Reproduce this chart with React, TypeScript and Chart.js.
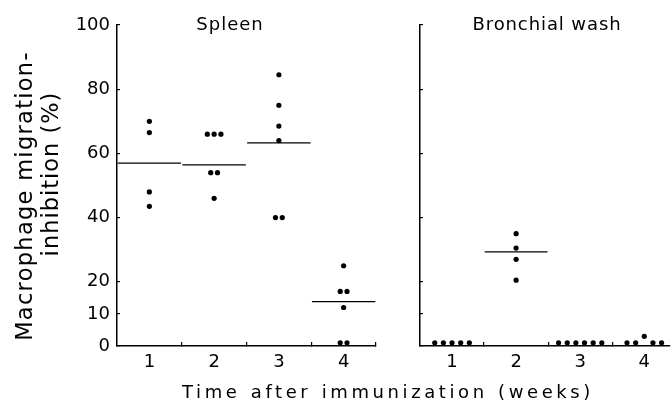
import React, { useEffect, useRef } from "react";
import { Chart, registerables } from "chart.js";

Chart.register(...registerables);

// ---- data ----
const weeks = [1, 2, 3, 4];
const xTickLabels = ["1", "2", "3", "4"];
const yTickValues = [0, 10, 20, 40, 60, 80, 100];
const yTickLabels = ["0", "10", "20", "40", "60", "80", "100"];

const spleenWeek1 = [70, 66.5, 48, 43.5];
const spleenWeek2 = [66, 66, 66, 54, 54, 46];
const spleenWeek3 = [84.5, 75, 68.5, 64, 40, 40];
const spleenWeek4 = [25, 17, 17, 12, 1, 1];
const spleenMeans = [57, 56.4, 63.3, 13.8];

const bronchialWeek1 = [1, 1, 1, 1, 1];
const bronchialWeek2 = [35, 30.5, 27, 20.5];
const bronchialWeek3 = [1, 1, 1, 1, 1, 1];
const bronchialWeek4 = [1, 1, 3, 1, 1];
const bronchialMeans: (number | null)[] = [null, 29.3, null, null];

const titleSpleen = "Spleen";
const titleBronchial = "Bronchial wash";
const xTitle = "Time after immunization (weeks)";
const yTitleLine1 = "Macrophage migration-";
const yTitleLine2 = "inhibition (%)";

const FONT = "'DejaVu Sans', sans-serif";

// spread near-equal neighbouring values side by side
function spread(week: number, values: number[], step: number) {
  const pts: { x: number; y: number }[] = [];
  let i = 0;
  while (i < values.length) {
    let j = i + 1;
    while (j < values.length && Math.abs(values[j] - values[j - 1]) < 2.5) j++;
    const n = j - i;
    for (let k = 0; k < n; k++) {
      pts.push({ x: week + (k - (n - 1) / 2) * step, y: values[i + k] });
    }
    i = j;
  }
  return pts;
}

function buildConfig(
  groups: number[][],
  means: (number | null)[],
  step: number,
  xMax: number,
  yWidth: number,
  showYLabels: boolean,
  padRight: number
): any {
  const points = groups.flatMap((g, i) => spread(weeks[i], g, step));
  const meanSets = means
    .map((m, i) =>
      m === null
        ? null
        : {
            type: "scatter",
            showLine: true,
            data: [
              { x: weeks[i] - 0.49, y: m },
              { x: weeks[i] + 0.49, y: m },
            ],
            borderColor: "#000",
            borderWidth: 1.3,
            pointRadius: 0,
            pointHoverRadius: 0,
          }
    )
    .filter(Boolean);

  const xTicks = [0.5, ...weeks.flatMap((w) => [w, w + 0.5])].filter(
    (v) => v <= xMax + 1e-9
  );

  return {
    type: "scatter",
    data: {
      datasets: [
        {
          data: points,
          backgroundColor: "#000",
          borderWidth: 0,
          pointRadius: 2.6,
          pointHoverRadius: 2.6,
        },
        ...meanSets,
      ],
    },
    options: {
      animation: false,
      responsive: false,
      devicePixelRatio: 1,
      events: [],
      layout: { padding: { top: 25, right: padRight, left: 0, bottom: 0 } },
      plugins: { legend: { display: false }, tooltip: { enabled: false }, title: { display: false } },
      scales: {
        x: {
          type: "linear",
          min: 0.5,
          max: xMax,
          afterBuildTicks: (s: any) => {
            s.ticks = xTicks.map((v) => ({ value: v }));
          },
          afterFit: (s: any) => {
            s.height = 63;
          },
          grid: {
            drawOnChartArea: false,
            drawTicks: true,
            tickLength: -4,
            lineWidth: 1.2,
            color: (ctx: any) =>
              ctx.tick && ctx.tick.value % 1 !== 0 && ctx.tick.value !== 0.5
                ? "#000"
                : "rgba(0,0,0,0)",
          },
          border: { display: true, color: "#000", width: 1.5 },
          ticks: {
            autoSkip: false,
            maxRotation: 0,
            padding: 10,
            color: "#000",
            font: { family: FONT, size: 18 },
            callback: (v: any) => {
              const i = weeks.indexOf(Number(v));
              return i >= 0 ? xTickLabels[i] : "";
            },
          },
        },
        y: {
          type: "linear",
          min: 0,
          max: 100,
          afterBuildTicks: (s: any) => {
            s.ticks = yTickValues.map((v) => ({ value: v }));
          },
          afterFit: (s: any) => {
            s.width = yWidth;
          },
          grid: {
            drawOnChartArea: false,
            drawTicks: true,
            tickLength: -3,
            lineWidth: 1.2,
            color: "#000",
          },
          border: { display: true, color: "#000", width: 1.5 },
          ticks: {
            display: showYLabels,
            padding: 10,
            color: "#000",
            font: { family: FONT, size: 18 },
            callback: (v: any) => {
              const i = yTickValues.indexOf(Number(v));
              return i >= 0 ? yTickLabels[i] : "";
            },
          },
        },
      },
    },
  };
}

const textBase: React.CSSProperties = {
  position: "absolute",
  fontFamily: FONT,
  color: "#000",
  whiteSpace: "nowrap",
};

export default function App() {
  const leftRef = useRef<HTMLCanvasElement>(null);
  const rightRef = useRef<HTMLCanvasElement>(null);

  useEffect(() => {
    const left = new Chart(
      leftRef.current!,
      buildConfig(
        [spleenWeek1, spleenWeek2, spleenWeek3, spleenWeek4],
        spleenMeans,
        0.105,
        4.5,
        117,
        true,
        24
      )
    );
    const right = new Chart(
      rightRef.current!,
      buildConfig(
        [bronchialWeek1, bronchialWeek2, bronchialWeek3, bronchialWeek4],
        bronchialMeans,
        0.135,
        0.5 + 252 / 64.75,
        20,
        false,
        0
      )
    );
    return () => {
      left.destroy();
      right.destroy();
    };
  }, []);

  return (
    <div
      style={{
        position: "absolute",
        left: 0,
        top: 0,
        width: 672,
        height: 409,
        background: "#fff",
        overflow: "hidden",
      }}
    >
      <canvas
        ref={leftRef}
        width={400}
        height={409}
        style={{ position: "absolute", left: 0, top: 0, width: 400, height: 409 }}
      />
      <canvas
        ref={rightRef}
        width={272}
        height={409}
        style={{ position: "absolute", left: 400, top: 0, width: 272, height: 409 }}
      />
      <div
        style={{
          ...textBase,
          left: 180,
          width: 100,
          top: 15,
          fontSize: 18,
          lineHeight: "18px",
          letterSpacing: "1px",
          textAlign: "center",
        }}
      >
        {titleSpleen}
      </div>
      <div
        style={{
          ...textBase,
          left: 467,
          width: 160,
          top: 15,
          fontSize: 18,
          lineHeight: "18px",
          letterSpacing: "0.9px",
          textAlign: "center",
        }}
      >
        {titleBronchial}
      </div>
      <div
        style={{
          ...textBase,
          left: 182,
          top: 383,
          fontSize: 18,
          lineHeight: "18px",
          letterSpacing: "3.6px",
          wordSpacing: "1px",
        }}
      >
        {xTitle}
      </div>
      <div
        style={{
          ...textBase,
          left: 23.5 - 160,
          top: 196 - 11,
          width: 320,
          height: 22,
          fontSize: 22.5,
          lineHeight: "22px",
          letterSpacing: "1.3px",
          textAlign: "center",
          transform: "rotate(-90deg)",
        }}
      >
        {yTitleLine1}
      </div>
      <div
        style={{
          ...textBase,
          left: 50 - 160,
          top: 174 - 11,
          width: 320,
          height: 22,
          fontSize: 22.5,
          lineHeight: "22px",
          letterSpacing: "1px",
          textAlign: "center",
          transform: "rotate(-90deg)",
        }}
      >
        {yTitleLine2}
      </div>
    </div>
  );
}
